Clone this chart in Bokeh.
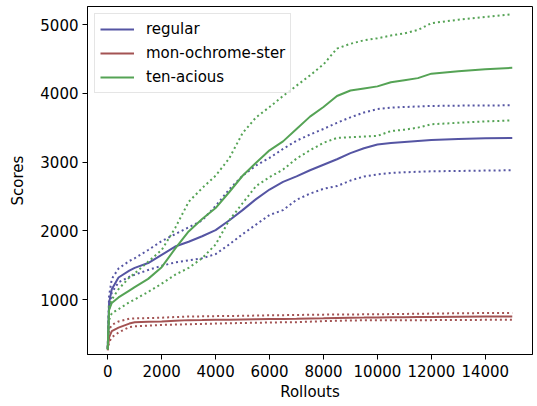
from bokeh.plotting import figure
from bokeh.embed import file_html
from bokeh.resources import INLINE
from bokeh.models import FixedTicker, Range1d, Legend, LegendItem

rollouts = [0, 50, 150, 400, 800, 1000, 1500, 2000, 2500, 3000, 3500, 4000, 4500, 5000, 5500, 6000,
            6500, 7000, 7500, 8000, 8500, 9000, 9500, 10000, 10500, 11000, 11500, 12000, 13000, 14000, 15000]

regular_mean = [280, 950, 1150, 1320, 1420, 1460, 1530, 1650, 1770, 1840, 1920, 2010, 2150, 2300, 2460, 2600,
                2710, 2790, 2880, 2960, 3040, 3130, 3200, 3255, 3275, 3290, 3305, 3320, 3335, 3345, 3350]
regular_upper = [300, 1050, 1300, 1450, 1560, 1600, 1720, 1850, 1950, 2050, 2150, 2360, 2600, 2800, 2950, 3060,
                 3190, 3310, 3400, 3480, 3570, 3650, 3720, 3770, 3790, 3800, 3808, 3815, 3820, 3822, 3825]
regular_lower = [280, 850, 1100, 1250, 1330, 1360, 1430, 1490, 1540, 1570, 1600, 1660, 1800, 1950, 2090, 2230,
                 2300, 2450, 2540, 2610, 2650, 2730, 2790, 2820, 2840, 2850, 2858, 2865, 2870, 2875, 2880]

mono_mean = [280, 450, 540, 590, 650, 670, 675, 680, 690, 700, 702, 705, 707, 710, 712, 715,
             718, 720, 725, 728, 732, 735, 737, 740, 741, 742, 744, 746, 750, 752, 753]
mono_upper = [300, 560, 630, 680, 720, 725, 730, 735, 745, 752, 755, 758, 760, 763, 766, 770,
              772, 775, 778, 780, 782, 783, 784, 785, 788, 790, 793, 795, 800, 803, 805]
mono_lower = [260, 380, 450, 520, 600, 610, 620, 630, 635, 640, 645, 650, 655, 658, 662, 665,
              668, 670, 678, 685, 690, 695, 697, 698, 699, 700, 700, 700, 702, 704, 705]

ten_mean = [280, 850, 950, 1030, 1130, 1180, 1300, 1470, 1740, 1990, 2170, 2330, 2560, 2800, 2990, 3170,
            3300, 3480, 3660, 3800, 3960, 4040, 4070, 4100, 4160, 4190, 4220, 4285, 4320, 4350, 4370]
ten_upper = [300, 900, 1000, 1150, 1320, 1380, 1550, 1720, 2040, 2420, 2620, 2800, 3050, 3420, 3650, 3800,
             3960, 4110, 4260, 4420, 4650, 4720, 4770, 4800, 4840, 4870, 4920, 5020, 5070, 5110, 5150]
ten_lower = [270, 700, 800, 860, 960, 1000, 1110, 1230, 1360, 1460, 1600, 1800, 2150, 2400, 2650, 2780,
             2890, 3050, 3170, 3280, 3350, 3360, 3370, 3380, 3450, 3470, 3500, 3550, 3570, 3590, 3605]

series_names = ["regular", "mon-ochrome-ster", "ten-acious"]
x_ticks = [0, 2000, 4000, 6000, 8000, 10000, 12000, 14000]
y_ticks = [1000, 2000, 3000, 4000, 5000]

colors = ["#5555a3", "#a35353", "#55a355"]
FONT = "DejaVu Sans"

p = figure(width=537, height=406, output_backend="svg", toolbar_location=None,
           x_range=Range1d(-750, 15750), y_range=Range1d(200, 5262),
           min_border_left=87, min_border_right=5, min_border_top=6, min_border_bottom=52)

p.xgrid.visible = False
p.ygrid.visible = False
p.outline_line_color = "black"
p.outline_line_width = 1
p.outline_line_alpha = 1

for ax in (p.xaxis[0], p.yaxis[0]):
    ax.axis_line_color = "black"
    ax.major_tick_line_color = "black"
    ax.major_tick_out = 5
    ax.major_tick_in = 0
    ax.minor_tick_line_color = None
    ax.major_label_text_font = FONT
    ax.major_label_text_font_size = "15px"
    ax.major_label_text_color = "black"
    ax.axis_label_text_font = FONT
    ax.axis_label_text_font_size = "15px"
    ax.axis_label_text_font_style = "normal"
    ax.axis_label_text_color = "black"

p.xaxis.ticker = FixedTicker(ticks=x_ticks)
p.yaxis.ticker = FixedTicker(ticks=y_ticks)
p.xaxis.axis_label = "Rollouts"
p.yaxis.axis_label = "Scores"
p.xaxis.major_label_standoff = 5
p.xaxis.axis_label_standoff = 3
p.yaxis.major_label_standoff = 4
p.yaxis.axis_label_standoff = 10

groups = [
    (regular_mean, regular_upper, regular_lower),
    (mono_mean, mono_upper, mono_lower),
    (ten_mean, ten_upper, ten_lower),
]

items = []
for name, color, (mean, upper, lower) in zip(series_names, colors, groups):
    r = p.line(rollouts, mean, line_color=color, line_width=2)
    p.line(rollouts, upper, line_color=color, line_width=2, line_dash="2 3")
    p.line(rollouts, lower, line_color=color, line_width=2, line_dash="2 3")
    items.append(LegendItem(label=name, renderers=[r]))

legend = Legend(items=items, location="top_left")
legend.label_text_font = FONT
legend.label_text_font_size = "15px"
legend.label_text_color = "black"
legend.glyph_width = 34
legend.glyph_height = 20
legend.label_height = 20
legend.label_standoff = 12
legend.spacing = 4
legend.padding = 5
legend.margin = 7
legend.border_line_color = "#cccccc"
legend.border_line_width = 1
legend.background_fill_color = "white"
legend.background_fill_alpha = 0.8
p.add_layout(legend)

open("out.html", "w").write(file_html(p, INLINE))
